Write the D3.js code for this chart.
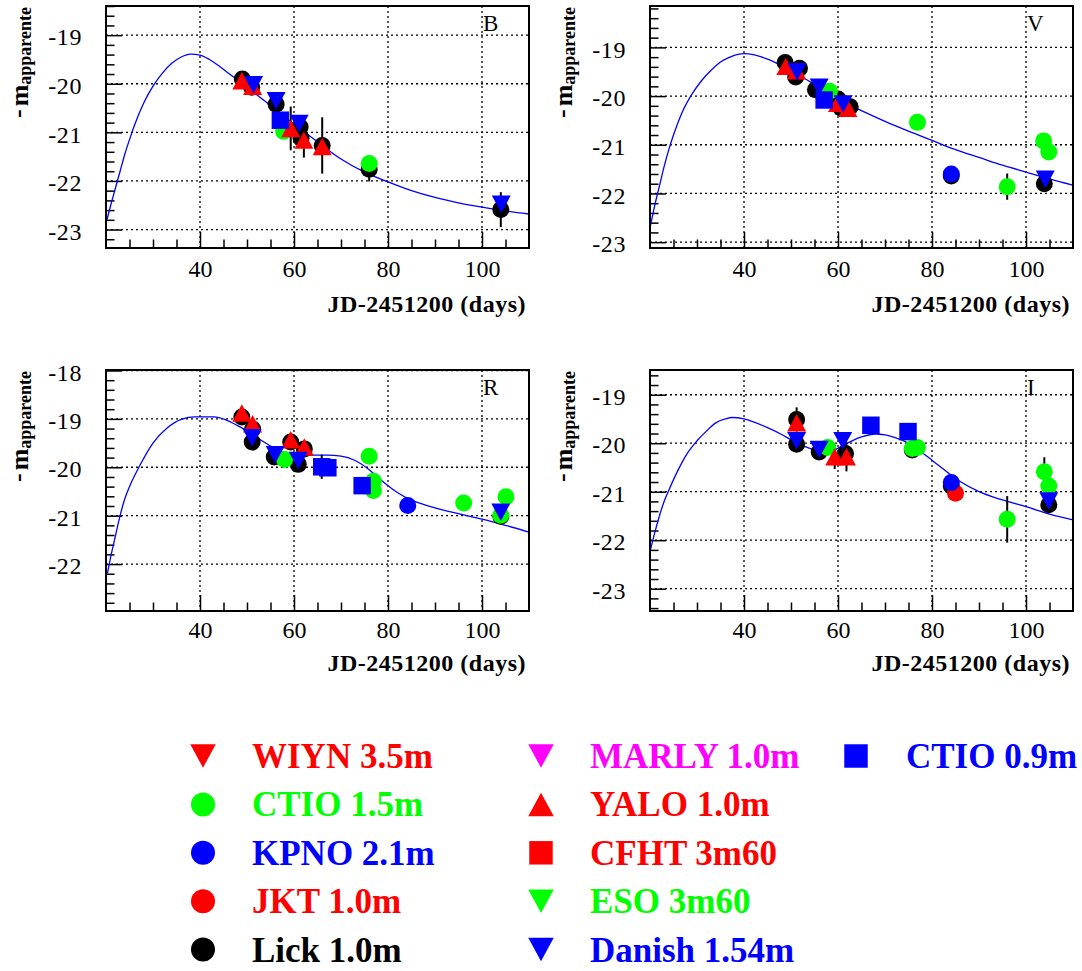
<!DOCTYPE html>
<html><head><meta charset="utf-8">
<script src="https://cdn.jsdelivr.net/npm/d3@7"></script>
<style>html,body{margin:0;padding:0;background:#fff;} svg{display:block;}</style>
</head><body>
<svg id="chart" width="1082" height="971"></svg>
<script>
// ---------------- DATA ----------------
const instruments = ["WIYN 3.5m","CTIO 1.5m","KPNO 2.1m","JKT 1.0m","Lick 1.0m","MARLY 1.0m","YALO 1.0m","CFHT 3m60","ESO 3m60","Danish 1.54m","CTIO 0.9m"];
const instrumentColors = ["#ff0000","#00ff00","#0000ff","#ff0000","#000000","#ff00ff","#ff0000","#ff0000","#00ff00","#0000ff","#0000ff"];
const instrumentShapes = ["down","circle","circle","circle","circle","down","up","square","down","down","square"];
const drawOrder = ["Lick 1.0m","JKT 1.0m","CTIO 1.5m","KPNO 2.1m","WIYN 3.5m","YALO 1.0m","CFHT 3m60","ESO 3m60","MARLY 1.0m","CTIO 0.9m","Danish 1.54m"];

const bands = ["B","V","R","I"];
const xTickLabels = [40, 60, 80, 100];
const yTickLabelsB = [-19, -20, -21, -22, -23];
const yTickLabelsV = [-19, -20, -21, -22, -23];
const yTickLabelsR = [-18, -19, -20, -21, -22];
const yTickLabelsI = [-19, -20, -21, -22, -23];
const xTitle = "JD-2451200 (days)";

// [instrument, day, -m, error]
const pointsB = [
  ["Lick 1.0m", 49.0, -19.90, 0], ["YALO 1.0m", 48.9, -19.94, 0],
  ["Lick 1.0m", 51.0, -20.07, 0], ["Danish 1.54m", 51.4, -20.02, 0], ["YALO 1.0m", 51.2, -20.05, 0],
  ["Lick 1.0m", 56.2, -20.42, 0], ["Danish 1.54m", 56.2, -20.35, 0],
  ["CTIO 0.9m", 57.1, -20.75, 0], ["CTIO 1.5m", 57.8, -20.98, 0],
  ["YALO 1.0m", 59.3, -20.92, 0.45],
  ["Lick 1.0m", 61.3, -20.89, 0], ["Danish 1.54m", 61.1, -20.82, 0],
  ["Lick 1.0m", 61.5, -21.12, 0], ["YALO 1.0m", 62.1, -21.16, 0.36],
  ["Lick 1.0m", 66.0, -21.27, 0.58], ["YALO 1.0m", 66.0, -21.29, 0],
  ["Lick 1.0m", 76.0, -21.76, 0.25], ["CTIO 1.5m", 76.0, -21.64, 0],
  ["Lick 1.0m", 104.0, -22.59, 0.36], ["Danish 1.54m", 104.1, -22.48, 0]
];
const pointsV = [
  ["Lick 1.0m", 48.75, -19.31, 0], ["YALO 1.0m", 48.9, -19.39, 0],
  ["Lick 1.0m", 51.0, -19.61, 0], ["Lick 1.0m", 51.8, -19.43, 0],
  ["Danish 1.54m", 51.3, -19.50, 0], ["YALO 1.0m", 51.2, -19.48, 0],
  ["Lick 1.0m", 55.2, -19.87, 0], ["CTIO 1.5m", 58.2, -19.90, 0],
  ["CTIO 0.9m", 57.05, -20.08, 0], ["Danish 1.54m", 56.0, -19.82, 0],
  ["Lick 1.0m", 60.0, -20.06, 0], ["Lick 1.0m", 60.7, -20.25, 0], ["Lick 1.0m", 62.6, -20.22, 0],
  ["YALO 1.0m", 59.9, -20.15, 0], ["YALO 1.0m", 62.1, -20.25, 0], ["Danish 1.54m", 61.1, -20.16, 0],
  ["CTIO 1.5m", 76.9, -20.54, 0],
  ["Lick 1.0m", 84.1, -21.64, 0], ["KPNO 2.1m", 84.1, -21.60, 0],
  ["CTIO 1.5m", 96.0, -21.86, 0.27],
  ["Lick 1.0m", 103.9, -21.80, 0], ["Danish 1.54m", 104.1, -21.71, 0],
  ["CTIO 1.5m", 103.75, -20.92, 0], ["CTIO 1.5m", 104.85, -21.15, 0]
];
const pointsR = [
  ["Lick 1.0m", 48.9, -18.96, 0], ["YALO 1.0m", 48.9, -18.88, 0],
  ["Lick 1.0m", 51.2, -19.21, 0], ["YALO 1.0m", 51.2, -19.10, 0],
  ["Lick 1.0m", 51.1, -19.48, 0], ["Danish 1.54m", 51.1, -19.39, 0],
  ["Lick 1.0m", 55.8, -19.79, 0], ["Danish 1.54m", 56.0, -19.74, 0],
  ["CTIO 1.5m", 58.0, -19.84, 0],
  ["Lick 1.0m", 59.3, -19.48, 0], ["YALO 1.0m", 59.3, -19.43, 0],
  ["Lick 1.0m", 62.2, -19.62, 0], ["YALO 1.0m", 62.2, -19.58, 0],
  ["Lick 1.0m", 60.9, -19.94, 0], ["Danish 1.54m", 60.9, -19.86, 0],
  ["CTIO 0.9m", 65.9, -19.99, 0.25], ["CTIO 0.9m", 67.2, -20.01, 0],
  ["CTIO 1.5m", 76.0, -19.77, 0], ["CTIO 0.9m", 74.5, -20.38, 0],
  ["CTIO 1.5m", 76.9, -20.29, 0], ["CTIO 1.5m", 76.9, -20.48, 0],
  ["KPNO 2.1m", 84.2, -20.79, 0],
  ["CTIO 1.5m", 96.1, -20.74, 0.1],
  ["CTIO 1.5m", 105.1, -20.61, 0],
  ["Lick 1.0m", 104.0, -21.01, 0], ["CTIO 1.5m", 104.0, -20.99, 0], ["Danish 1.54m", 104.0, -20.93, 0]
];
const pointsI = [
  ["Lick 1.0m", 51.2, -19.51, 0.25], ["YALO 1.0m", 51.2, -19.58, 0],
  ["Lick 1.0m", 51.2, -20.02, 0], ["Danish 1.54m", 51.2, -19.95, 0],
  ["Lick 1.0m", 56.0, -20.18, 0], ["Danish 1.54m", 56.0, -20.13, 0],
  ["CTIO 1.5m", 57.8, -20.09, 0],
  ["Lick 1.0m", 61.6, -20.21, 0], ["YALO 1.0m", 59.3, -20.28, 0.25], ["YALO 1.0m", 61.8, -20.28, 0.3],
  ["Danish 1.54m", 61.0, -19.95, 0],
  ["CTIO 0.9m", 67.0, -19.63, 0], ["CTIO 0.9m", 74.9, -19.76, 0.15],
  ["Lick 1.0m", 75.8, -20.14, 0], ["CTIO 1.5m", 75.8, -20.11, 0], ["CTIO 1.5m", 76.9, -20.09, 0],
  ["Lick 1.0m", 84.1, -20.88, 0], ["JKT 1.0m", 85.0, -21.03, 0], ["KPNO 2.1m", 84.1, -20.81, 0],
  ["CTIO 1.5m", 96.0, -21.57, 0.48],
  ["CTIO 1.5m", 103.9, -20.59, 0.3], ["CTIO 1.5m", 104.85, -20.88, 0.3],
  ["Lick 1.0m", 104.85, -21.27, 0], ["Danish 1.54m", 104.85, -21.19, 0]
];

// model light curves: [day, -m]
const curveB = [[20.2,-22.8],[21,-22.5],[22,-22.15],[23,-21.8],[24,-21.45],[25,-21.15],[26,-20.87],[28,-20.4],[30,-20.05],[32,-19.78],[34,-19.58],[36,-19.45],[38,-19.39],[40,-19.41],[42,-19.5],[44,-19.63],[46,-19.78],[48,-19.92],[50,-20.07],[52,-20.22],[55,-20.45],[58,-20.68],[60,-20.83],[63,-21.05],[66,-21.27],[70,-21.55],[75,-21.82],[80,-22.02],[85,-22.2],[90,-22.34],[95,-22.45],[100,-22.54],[105,-22.62],[110,-22.68]];
const curveV = [[20.1,-22.66],[21,-22.25],[22,-21.85],[23,-21.45],[24,-21.1],[25,-20.8],[27,-20.3],[29,-19.95],[31,-19.68],[33,-19.47],[35,-19.3],[37,-19.2],[39,-19.14],[40,-19.13],[42,-19.15],[45,-19.24],[50,-19.48],[55,-19.76],[60,-20.06],[65,-20.3],[70,-20.52],[75,-20.72],[80,-20.91],[85,-21.1],[90,-21.26],[95,-21.42],[100,-21.56],[105,-21.7],[110,-21.83]];
const curveR = [[20.3,-22.19],[21,-21.85],[22,-21.42],[23,-21.0],[24,-20.65],[25,-20.4],[27,-20.0],[30,-19.5],[33,-19.19],[36,-19.01],[39,-18.96],[43,-18.96],[45.5,-19.02],[48,-19.14],[50,-19.25],[52,-19.38],[55,-19.56],[58,-19.7],[60,-19.74],[63,-19.75],[67,-19.75],[70,-19.77],[73,-19.86],[76,-20.05],[78,-20.22],[80,-20.38],[82,-20.52],[85,-20.68],[88,-20.78],[90,-20.84],[95,-20.96],[100,-21.07],[105,-21.2],[110,-21.34]];
const curveI = [[20.1,-22.2],[21,-21.85],[22,-21.5],[23,-21.2],[24,-20.97],[26,-20.55],[28,-20.2],[30,-19.95],[32,-19.75],[34,-19.58],[36,-19.5],[37.5,-19.47],[40,-19.5],[42,-19.56],[45,-19.68],[48,-19.82],[50,-19.93],[53,-20.07],[55,-20.14],[57,-20.19],[59,-20.15],[61,-20.05],[63,-19.95],[65,-19.87],[67,-19.82],[68,-19.81],[70,-19.83],[72,-19.88],[75,-20.0],[78,-20.2],[80,-20.35],[83,-20.58],[86,-20.79],[90,-21.0],[95,-21.17],[100,-21.31],[105,-21.46],[110,-21.58]];

// ---------------- LAYOUT ----------------
const xDomain = [20, 110];
const panels = [
  {band:"B", pts:pointsB, curve:curveB, ylab:yTickLabelsB, x0:106, x1:529, y0:6,   y1:248, top:-18.40, bottom:-23.38, tickBase:277, titleBase:312},
  {band:"V", pts:pointsV, curve:curveV, ylab:yTickLabelsV, x0:650, x1:1073, y0:6,  y1:248, top:-18.15, bottom:-23.12, tickBase:277, titleBase:312},
  {band:"R", pts:pointsR, curve:curveR, ylab:yTickLabelsR, x0:106, x1:529, y0:370, y1:611, top:-17.99, bottom:-22.97, tickBase:638, titleBase:671},
  {band:"I", pts:pointsI, curve:curveI, ylab:yTickLabelsI, x0:650, x1:1073, y0:370,y1:611, top:-18.49, bottom:-23.46, tickBase:638, titleBase:671}
];
const SERIF = "'Liberation Serif','Times New Roman',Times,serif";
const svg = d3.select("#chart");

function symbolPath(shape, s) {
  const w = s, h = s * 0.92;
  if (shape === "down") return `M${-w/2},${-h/2}L${w/2},${-h/2}L0,${h/2}Z`;
  if (shape === "up") return `M${-w/2},${h/2}L${w/2},${h/2}L0,${-h/2}Z`;
  if (shape === "square") { const a = s*0.92/2; return `M${-a},${-a}H${a}V${a}H${-a}Z`; }
  const r = s/2; return `M${-r},0A${r},${r} 0 1,0 ${r},0A${r},${r} 0 1,0 ${-r},0Z`;
}
function instStyle(name) {
  const i = instruments.indexOf(name);
  return {color: instrumentColors[i], shape: instrumentShapes[i]};
}

panels.forEach((p, k) => {
  const g = svg.append("g");
  const x = d3.scaleLinear().domain(xDomain).range([p.x0, p.x1]);
  const y = d3.scaleLinear().domain([p.bottom, p.top]).range([p.y1, p.y0]);
  const cid = "clip" + k;
  svg.append("clipPath").attr("id", cid).append("rect")
    .attr("x", p.x0).attr("y", p.y0).attr("width", p.x1 - p.x0).attr("height", p.y1 - p.y0);

  // grid (dotted)
  const grid = g.append("g").attr("stroke", "#000").attr("stroke-width", 1.3).attr("stroke-dasharray", "2,3");
  grid.selectAll(".gx").data(xTickLabels).join("line")
    .attr("x1", d => x(d)).attr("x2", d => x(d)).attr("y1", p.y0).attr("y2", p.y1);
  grid.selectAll(".gy").data(p.ylab).join("line")
    .attr("y1", d => y(d)).attr("y2", d => y(d)).attr("x1", p.x0).attr("x2", p.x1);

  // minor ticks
  const minorX = d3.range(25, 110, 5).filter(v => !xTickLabels.includes(v));
  const minorY = [];
  for (let v = Math.ceil(p.bottom * 5) / 5; v <= p.top + 1e-9; v = Math.round((v + 0.2) * 10) / 10) {
    if (Math.abs(v - Math.round(v)) > 1e-6) minorY.push(v);
  }
  const ax1 = g.append("g").attr("transform", `translate(0,${p.y1})`)
    .call(d3.axisBottom(x).tickValues(minorX).tickSize(-8.5).tickFormat(""));
  const ay1 = g.append("g").attr("transform", `translate(${p.x0},0)`)
    .call(d3.axisLeft(y).tickValues(minorY).tickSize(-8.5).tickFormat(""));
  const ax2 = g.append("g").attr("transform", `translate(0,${p.y1})`)
    .call(d3.axisBottom(x).tickValues(xTickLabels).tickSize(-16).tickFormat(d => String(d)));
  const ay2 = g.append("g").attr("transform", `translate(${p.x0},0)`)
    .call(d3.axisLeft(y).tickValues(p.ylab).tickSize(-16).tickFormat(d => String(d)));
  [ax1, ay1, ax2, ay2].forEach(a => {
    a.select(".domain").remove();
    a.attr("font-family", SERIF);
    a.selectAll("line").attr("stroke", "#000").attr("stroke-width", 1.5);
  });
  ax2.selectAll("text").attr("y", p.tickBase - p.y1).attr("dy", null)
    .attr("font-family", SERIF).attr("font-size", 24).attr("fill", "#000");
  ay2.selectAll("text").attr("x", -24).attr("dy", 9.7)
    .attr("font-family", SERIF).attr("font-size", 24).attr("letter-spacing", 0.6).attr("fill", "#000");

  // model curve
  const line = d3.line().x(d => x(d[0])).y(d => y(d[1])).curve(d3.curveMonotoneX);
  g.append("path").datum(p.curve).attr("d", line).attr("fill", "none")
    .attr("stroke", "#0000ff").attr("stroke-width", 1.3).attr("clip-path", `url(#${cid})`);

  // error bars
  g.append("g").selectAll("line").data(p.pts.filter(d => d[3] > 0)).join("line")
    .attr("x1", d => x(d[1])).attr("x2", d => x(d[1]))
    .attr("y1", d => y(d[2] + d[3])).attr("y2", d => y(d[2] - d[3]))
    .attr("stroke", "#000").attr("stroke-width", 2);

  // markers, in drawing order
  const mg = g.append("g");
  drawOrder.forEach(name => {
    const st = instStyle(name);
    mg.selectAll(null).data(p.pts.filter(d => d[0] === name)).join("path")
      .attr("transform", d => `translate(${x(d[1])},${y(d[2])})`)
      .attr("d", symbolPath(st.shape, st.shape === "circle" ? 17 : 19))
      .attr("fill", st.color);
  });

  // frame
  g.append("rect").attr("x", p.x0).attr("y", p.y0).attr("width", p.x1 - p.x0).attr("height", p.y1 - p.y0)
    .attr("fill", "none").attr("stroke", "#000").attr("stroke-width", 2);

  // band label
  g.append("text").attr("x", p.x1 - 46).attr("y", p.y0 + 25).text(p.band)
    .attr("font-family", SERIF).attr("font-size", 23).attr("fill", "#000");

  // x title
  g.append("text").attr("x", p.x1 - 3).attr("y", p.titleBase).attr("text-anchor", "end").text(xTitle)
    .attr("font-family", SERIF).attr("font-size", 24).attr("letter-spacing", 0.5)
    .attr("font-weight", "bold").attr("fill", "#000");

  // y title
  const yt = g.append("text").attr("transform", `translate(${p.x0 - 78},${p.y0 + 1}) rotate(-90)`)
    .attr("text-anchor", "end").attr("font-family", SERIF).attr("font-weight", "bold").attr("fill", "#000");
  yt.append("tspan").attr("font-size", 26).attr("dy", -2).text("-");
  yt.append("tspan").attr("font-size", 26).attr("dy", 2).attr("dx", 3).text("m");
  yt.append("tspan").attr("font-size", 18).attr("dy", 2.6).text("apparente");
});

// ---------------- LEGEND ----------------
const legendCols = [[0,1,2,3,4],[5,6,7,8,9],[10]];
const legendX = [{m:203, t:252}, {m:541, t:590}, {m:856, t:906}];
const legendY0 = 756, legendDY = 48.4;
const lg = svg.append("g");
legendCols.forEach((col, c) => {
  col.forEach((i, r) => {
    const cy = legendY0 + r * legendDY;
    lg.append("path").attr("transform", `translate(${legendX[c].m},${cy})`)
      .attr("d", symbolPath(instrumentShapes[i], instrumentShapes[i] === "circle" ? 24 : 25.5))
      .attr("fill", instrumentColors[i]);
    lg.append("text").attr("x", legendX[c].t).attr("y", cy + 12).text(instruments[i])
      .attr("font-family", SERIF).attr("font-weight", "bold").attr("font-size", 35)
      .attr("fill", instrumentColors[i]);
  });
});
</script>
</body></html>
